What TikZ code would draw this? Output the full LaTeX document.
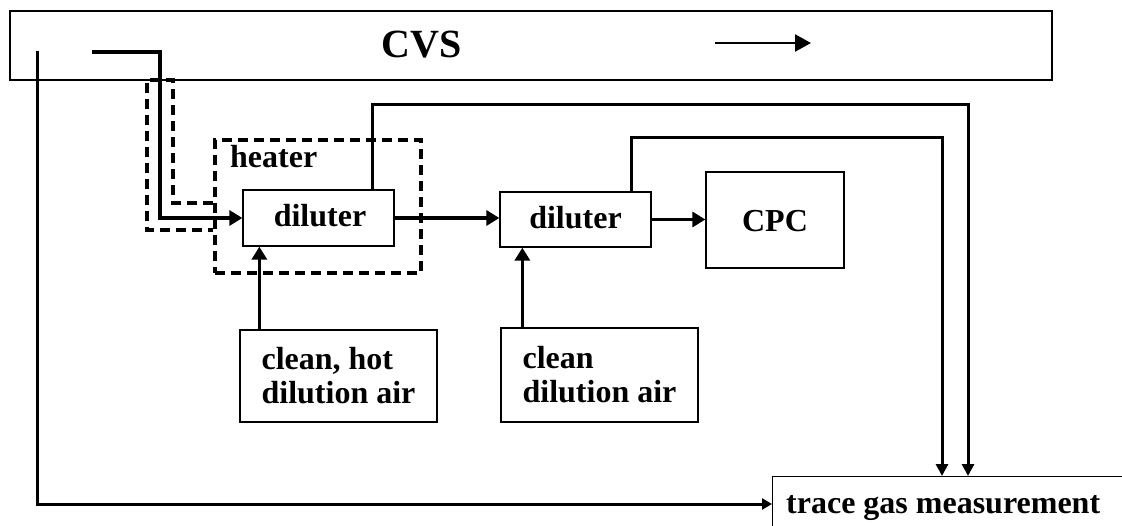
\documentclass[tikz,border=0pt]{standalone}
\usepackage{fontspec}
\setmainfont{Liberation Serif}
\usetikzlibrary{arrows.meta,calc}
\begin{document}
\begin{tikzpicture}[x=1pt,y=-1pt,
  box/.style={draw,line width=1.3pt,rectangle,inner sep=0pt,
    font=\bfseries\fontsize{32}{34}\selectfont},
  lbl/.style={inner sep=0pt,font=\bfseries\fontsize{32}{34}\selectfont},
  arr/.style={line width=3.6pt,-{Triangle[length=13pt,width=15pt]}},
  arrs/.style={line width=3pt,-{Triangle[length=12pt,width=12pt]}},
  dashline/.style={line width=3.4pt,dash pattern=on 10pt off 6pt}]
\clip (0,0) rectangle (1122,526);
\fill[white] (0,0) rectangle (1122,526);
% nodes
\node[box,minimum width=1042pt,minimum height=69pt] (cvs) at (531,45.5) {};
\node[lbl,anchor=base] (cvslabel) at (422,58) {\fontsize{40}{42}\selectfont CVS};
\coordinate (fa) at (715,43);
\coordinate (fb) at (811,43);
\node[draw,dashline,minimum width=206pt,minimum height=133pt,inner sep=0pt] (heater) at (318,206.5) {};
\node[lbl,anchor=base west] (heaterlabel) at (230,168) {heater};
\node[box,fill=white,minimum width=151pt,minimum height=56pt] (d1) at (318.5,218) {};
\node[lbl,anchor=base] at (320,227) {diluter};
\node[box,minimum width=151pt,minimum height=55pt] (d2) at (575.5,219.5) {};
\node[lbl,anchor=base] at (575.5,229) {diluter};
\node[box,minimum width=138pt,minimum height=96pt] (cpc) at (775,220) {};
\node[lbl,anchor=base] at (775,232) {CPC};
\node[box,minimum width=197pt,minimum height=92pt,align=left] (hot) at (338.5,376) {clean, hot\\dilution air};
\node[box,minimum width=197pt,minimum height=94pt,align=left] (clean) at (599.5,375) {clean\\dilution air};
\node[box,anchor=north west,minimum width=400pt,minimum height=100pt] (trace) at (772,476) {};
\node[lbl,anchor=base west] (tracelabel) at (786,513) {trace gas measurement};
% coordinates
\coordinate (in0) at (92,52);
\coordinate (lt) at (37,51);
\coordinate (sa) at (173,203);
\coordinate (sb) at (147,230);
% CVS flow arrow
\draw[line width=2.4pt,-{Triangle[length=16pt,width=17pt]}] (fa) -- (fb);
% dashed heated sheath
\draw[dashline] (heater.west |- sa) -- (sa) -- (173,80) -- (147,80) -- (sb) -- (heater.west |- sb);
% inlet
\draw[arr] (in0) -- (160,52) -- (160,218) -- (d1.west);
% d1 -> d2 -> cpc
\draw[arr] (d1.east) -- (d1.east -| d2.west);
\draw[arr] (d2.east) -- (d2.east -| cpc.west);
% dilution air
\coordinate (h1) at ($(hot.north west)+(20,0)$);
\draw[arr] (h1) -- (h1 |- d1.south);
\coordinate (c1) at ($(clean.north west)+(22,0)$);
\draw[arr] (c1) -- (c1 |- d2.south);
% to trace gas measurement
\coordinate (d1t) at ($(d1.north east)+(-22,0)$);
\draw[arrs] (d1t) -- (d1t |- 0,105) -- (968,105) -- (968,476 |- trace.north);
\coordinate (d2t) at ($(d2.north east)+(-20,0)$);
\draw[arrs] (d2t) -- (d2t |- 0,138) -- (942,138) -- (942,476 |- trace.north);
\coordinate (tin) at ($(trace.north west)+(0,28)$);
\draw[line width=3pt,-{Triangle[length=10pt,width=11pt]}] (lt) -- (37,504) -- (tin);
\end{tikzpicture}
\end{document}
